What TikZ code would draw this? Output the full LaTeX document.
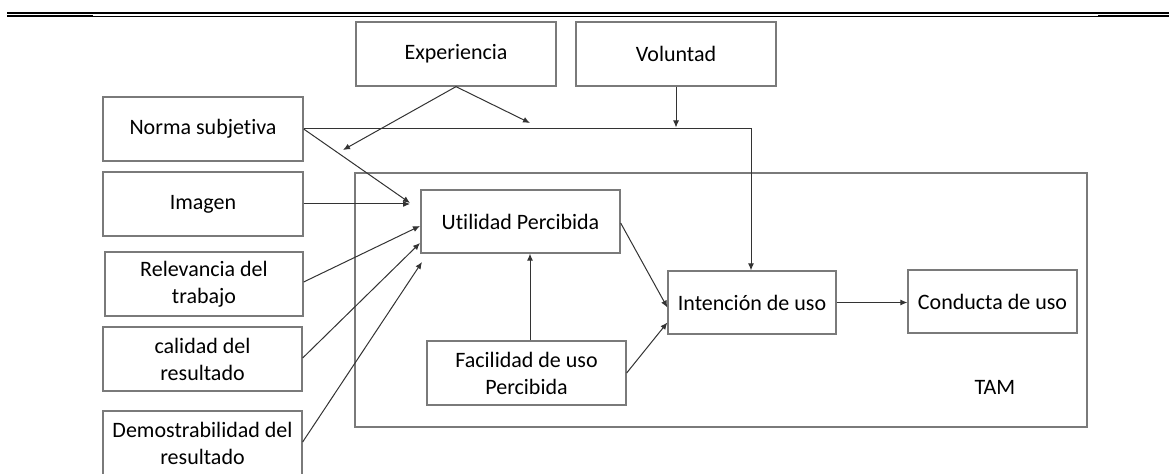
\documentclass[tikz,border=0pt]{standalone}
\usepackage{fontspec}
\setmainfont{Carlito}[Ligatures=NoCommon]
\usetikzlibrary{arrows.meta}
\definecolor{boxgray}{HTML}{7A7A7A}
\definecolor{linegray}{HTML}{333333}
\tikzset{
	caja/.style={draw=boxgray,line width=0.65pt,align=center,inner sep=0pt,
		minimum width=100pt,minimum height=32pt,font=\fontsize{11}{13.5}\selectfont},
	flecha/.style={draw=linegray,line width=0.5pt,-{Latex[length=3.5pt,width=3pt]}},
	linea/.style={draw=linegray,line width=0.5pt}
}
\begin{document}
\begin{tikzpicture}[x=0.5pt,y=-0.5pt]
			\useasboundingbox (0,0) rectangle (1170,474);
			\draw[line width=1.1pt] (7,12.7) -- (1169,12.7);
			\draw[line width=0.4pt] (7,16) -- (1169,16);
			\draw[line width=0.9pt] (7,16.3) -- (93,16.3) (1098,16.3) -- (1169,16.3);
			\node[caja,minimum width=366pt,minimum height=127pt] (tam) at (721,300) {};
			\node[caja] (expe) at (456,54) {Experiencia};
			\node[caja] (volu) at (676,54) {Voluntad};
			\node[caja] (norma) at (203,129) {Norma subjetiva};
			\node[caja] (imagen) at (203,204) {Imagen};
			\node[caja,minimum width=99pt] (relev) at (204,284) {Relevancia del\\trabajo};
			\node[caja,minimum width=99.5pt] (calidad) at (202.5,359) {calidad del\\resultado};
			\node[caja,minimum width=99.5pt] (demo) at (202.5,443) {Demostrabilidad del\\resultado};
			\node[caja,minimum width=99.5pt,minimum height=31.5pt] (util) at (520.5,221.5) {Utilidad Percibida};
			\node[caja,minimum width=99.5pt] (facil) at (526.5,373) {Facilidad de uso\\Percibida};
			\node[caja,minimum width=84pt,minimum height=31.5pt] (inten) at (752,302.5) {Intención de uso};
			\node[caja,minimum width=84.5pt,minimum height=31.5pt] (cond) at (992.5,301.5) {Conducta de uso};
			\node[font=\fontsize{11}{13.5}\selectfont] (tamlbl) at (995,387) {TAM};
			\coordinate (expeA) at (343,150);
			\coordinate (expeB) at (530,123);
			\coordinate (cruce) at (751,129);
			\coordinate (normaFin) at (410,203);
			\draw[flecha] (expe.south) -- (expeA);
			\draw[flecha] (expe.south) -- (expeB);
			\draw[flecha] (volu.south) -- (676,127.5);
			\draw[flecha] (norma.east) -- (cruce) -- (inten.north -| cruce);
			\draw[flecha] (norma.east) -- (normaFin);
			\draw[flecha] (imagen.east) -- (410,204);
			\draw[flecha] (relev.east) ++(0,-2) -- (420,226);
			\draw[flecha] (calidad.east) ++(0,-1) -- (420,243);
			\draw[flecha] (demo.east) ++(0,-1) -- (422,262);
			\draw[flecha] (facil.north -| 530,0) -- (util.south -| 530,0);
			\draw[flecha] (util.east) ++(0,1.5) -- ([yshift=-2.5pt]inten.west);
			\draw[flecha] (facil.east) -- ([yshift=-10pt]inten.west);
			\draw[flecha] (inten.east) -- (cond.west |- inten.east);
\end{tikzpicture}
\end{document}
